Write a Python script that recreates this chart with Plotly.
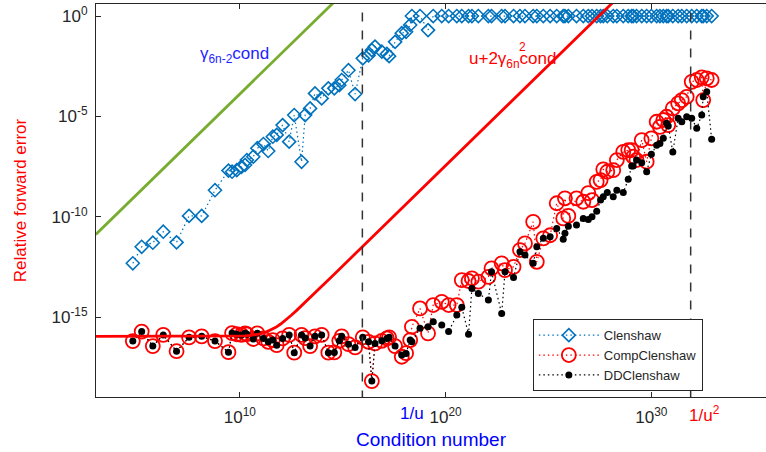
import plotly.graph_objects as go

# ---------------- data ----------------
cond = [6.3e4, 1.7e5, 5.9e5, 1.9e6, 8.4e6, 3.4e7, 1.4e8, 6.2e8, 2.8e9, 4.2e9,
        7.1e9, 1.2e10, 1.8e10, 2.2e10, 4.5e10, 7.1e10, 1.4e11, 2.4e11, 4.0e11, 6.2e11,
        1.2e12, 2.5e12, 4.4e12, 1.0e13, 1.5e13, 2.6e13, 4.5e13, 9.5e13, 2.0e14, 3.9e14,
        6.8e14, 8.9e14, 1.9e15, 4.0e15, 9.4e15, 1.8e16, 2.6e16, 3.7e16, 7.9e16, 1.4e17,
        1.8e17, 3.5e17, 7.4e17, 1.2e18, 1.9e18, 2.3e18, 5.7e18, 1.4e19, 2.5e19, 6.5e19,
        1.4e20, 3.5e20, 6.1e20, 1.3e21, 1.9e21, 3.9e21, 1.2e22, 1.7e22, 5.3e22, 7.7e22,
        2.0e23, 4.1e23, 7.2e23, 1.8e24, 2.7e24, 5.6e24, 1.2e25, 2.5e25, 5.2e25, 6.3e25,
        9.2e25, 2.3e26, 4.9e26, 8.6e26, 1.3e27, 2.2e27, 3.4e27, 4.6e27, 7.2e27, 1.4e28,
        2.1e28, 4.3e28, 7.5e28, 1.1e29, 1.3e29, 1.9e29, 3.4e29, 5.9e29, 1.0e30, 1.8e30,
        2.6e30, 3.8e30, 5.5e30, 6.6e30, 1.1e31, 2.0e31, 3.0e31, 5.2e31, 9.1e31, 1.6e32,
        2.8e32, 3.3e32, 4.9e32, 8.5e32]

err_clenshaw = [4.8e-13, 3.2e-12, 5.1e-12, 1.8e-11, 5.3e-12, 1.1e-10, 1.1e-10, 2.1e-9, 2.0e-8, 1.75e-8,
                2.1e-8, 3.1e-8, 3.8e-8, 6.7e-8, 9.8e-8, 2.6e-7, 4.2e-7, 1.9e-7, 9.7e-7, 1.2e-6,
                3.7e-6, 5.5e-7, 1.17e-5, 5.5e-8, 1.17e-5, 2.5e-5, 1.4e-4, 7.9e-5, 2.5e-4, 2.5e-4,
                3.6e-4, 6.5e-4, 2.0e-3, 1.3e-4, 7.8e-3, 1.1e-2, 2.0e-2, 3.0e-2, 1.7e-2, 1.3e-2,
                1.0e-2, 5.2e-2, 0.14, 0.165, 0.36, 1.0, 1.0, 0.2, 1.0, 1.0,
                1.0, 1.0, 1.0, 1.0, 1.0, 1.0, 1.0, 1.0, 1.0, 1.0,
                1.0, 1.0, 1.0, 1.0, 1.0, 1.0, 1.0, 1.0, 1.0, 1.0,
                1.0, 1.0, 1.0, 1.0, 1.0, 1.0, 1.0, 1.0, 1.0, 1.0,
                1.0, 1.0, 1.0, 1.0, 1.0, 1.0, 1.0, 1.0, 1.0, 1.0,
                1.0, 1.0, 1.0, 1.0, 1.0, 1.0, 1.0, 1.0, 1.0, 1.0,
                1.0, 1.0, 1.0, 1.0]

err_comp = [6.4e-17, 1.9e-16, 3.6e-17, 1.3e-16, 2.0e-17, 9.8e-17, 1.1e-16, 6.4e-17, 1.8e-17, 1.6e-16,
            1.4e-16, 1.3e-16, 1.55e-16, 1.4e-16, 8.1e-17, 1.55e-16, 8.7e-17, 5.9e-17, 7.2e-17, 4.0e-17,
            8.7e-17, 1.3e-16, 1.7e-17, 1.3e-16, 9.0e-17, 3.6e-17, 1.1e-16, 1.3e-16, 1.7e-17, 1.75e-17,
            6.6e-17, 1.1e-16, 4.5e-17, 3.1e-17, 9.8e-17, 5.9e-17, 6.5e-19, 4.9e-17, 6.6e-17, 8.7e-17,
            9.8e-17, 3.6e-17, 1.06e-17, 1.6e-17, 7.2e-17, 3.3e-16, 2.7e-15, 1.55e-16, 4.0e-15, 5.8e-15,
            4.0e-15, 4.0e-15, 7.0e-14, 6.3e-14, 8.5e-14, 5.8e-14, 1.0e-13, 2.7e-13, 4.8e-13, 2.2e-13,
            3.2e-13, 2.2e-12, 4.7e-12, 5.6e-11, 5.7e-13, 8.4e-12, 1.2e-11, 4.7e-10, 8.3e-11, 8.3e-10,
            1.1e-10, 8.3e-10, 5.6e-10, 1.5e-9, 6.8e-10, 5.5e-9, 6.7e-9, 2.3e-8, 1.75e-8, 2.1e-8,
            6.7e-8, 1.7e-7, 2.1e-7, 2.1e-7, 9.8e-8, 6.7e-8, 6.6e-7, 5.5e-8, 8.1e-7, 5.4e-6,
            3.0e-6, 6.6e-6, 9.6e-6, 3.7e-6, 2.5e-5, 4.5e-5, 6.5e-5, 9.5e-5, 5.3e-4, 6.5e-4,
            8.8e-4, 6.5e-5, 7.9e-4, 6.5e-4]

err_dd = [6.4e-17, 1.9e-16, 3.6e-17, 1.3e-16, 2.0e-17, 9.8e-17, 1.1e-16, 6.4e-17, 1.8e-17, 1.6e-16,
          1.4e-16, 1.3e-16, 1.55e-16, 1.4e-16, 8.1e-17, 1.55e-16, 8.7e-17, 5.9e-17, 7.2e-17, 4.0e-17,
          8.7e-17, 1.3e-16, 1.7e-17, 1.3e-16, 9.0e-17, 3.6e-17, 1.1e-16, 1.3e-16, 1.7e-17, 1.75e-17,
          6.6e-17, 1.1e-16, 4.5e-17, 3.1e-17, 9.8e-17, 5.9e-17, 6.5e-19, 4.9e-17, 6.6e-17, 8.7e-17,
          9.8e-17, 3.6e-17, 1.3e-17, 1.56e-17, 7.2e-17, 5.9e-17, 2.75e-16, 3.3e-16, 5.9e-16, 4.0e-16,
          1.9e-16, 1.26e-15, 3.1e-15, 1.4e-16, 2.7e-14, 1.5e-14, 7.1e-15, 1.8e-13, 1.5e-15, 1.8e-13,
          9.5e-14, 1.8e-12, 1.24e-12, 4.8e-13, 3.2e-12, 8.4e-12, 1.0e-11, 2.6e-11, 7.5e-12, 1.5e-11,
          3.4e-11, 3.9e-11, 8.3e-11, 7.4e-11, 1.0e-10, 1.9e-10, 6.8e-10, 9.9e-10, 1.6e-9, 9.9e-10,
          2.1e-9, 1.6e-9, 7.3e-9, 3.4e-8, 3.4e-8, 6.7e-8, 4.9e-8, 1.75e-8, 1.3e-7, 3.7e-7,
          4.5e-7, 8.1e-7, 4.5e-6, 3.3e-6, 1.7e-7, 8.0e-6, 5.4e-6, 9.6e-6, 8.0e-6, 2.6e-6,
          1.17e-5, 9.5e-5, 1.7e-4, 7.2e-7]

# theoretical bounds: u = unit roundoff, n = polynomial degree
u = 2.0 ** -53
n = 20
gamma_6n_2 = (6 * n - 2) * u / (1 - (6 * n - 2) * u)
gamma_6n = 6 * n * u / (1 - 6 * n * u)
bound_cond = [10 ** (k / 4) for k in range(12, 4 * 36 + 1)]
bound_clenshaw = [gamma_6n_2 * c for c in bound_cond]
bound_comp = [u + 2 * gamma_6n ** 2 * c for c in bound_cond]

x_ticks = [1e10, 1e20, 1e30]
x_ticktext = ["10<sup>10</sup>", "10<sup>20</sup>", "10<sup>30</sup>"]
y_ticks = [1e0, 1e-5, 1e-10, 1e-15]
y_ticktext = ["10<sup>0</sup>", "10<sup>-5</sup>", "10<sup>-10</sup>", "10<sup>-15</sup>"]

FONT = "Liberation Sans, Arial, Helvetica, sans-serif"
AX = "#262626"
DOT = "1.5px,3px"

fig = go.Figure()

fig.add_trace(go.Scatter(
    x=cond, y=err_clenshaw, name="Clenshaw", mode="lines+markers",
    line=dict(color="#0072BD", width=1.2, dash=DOT),
    marker=dict(symbol="diamond-open", size=10, color="#0072BD", line=dict(width=1.6, color="#0072BD"))))
fig.add_trace(go.Scatter(
    x=cond, y=err_comp, name="CompClenshaw", mode="lines+markers",
    line=dict(color="#FF0000", width=1.2, dash=DOT),
    marker=dict(symbol="circle-open", size=14, color="#FF0000", line=dict(width=1.8, color="#FF0000"))))
fig.add_trace(go.Scatter(
    x=cond, y=err_dd, name="DDClenshaw", mode="lines+markers",
    line=dict(color="#000000", width=1.2, dash=DOT),
    marker=dict(symbol="circle", size=7, color="#000000")))

# bound lines
fig.add_trace(go.Scatter(x=bound_cond, y=bound_clenshaw, mode="lines", showlegend=False,
                         line=dict(color="#77AC30", width=2.8), hoverinfo="skip"))
fig.add_trace(go.Scatter(x=bound_cond, y=bound_comp, mode="lines", showlegend=False,
                         line=dict(color="#FF0000", width=2.8), hoverinfo="skip"))

# vertical dashed lines at 1/u and 1/u^2
for xv in [1 / u, 1 / u ** 2]:
    fig.add_trace(go.Scatter(x=[xv, xv], y=[1e-20, 1e2], mode="lines", showlegend=False,
                             line=dict(color="#333333", width=1.5, dash="dash"), hoverinfo="skip"))

fig.update_layout(
    width=766, height=452, autosize=False,
    margin=dict(l=96, r=0, t=4, b=55),
    plot_bgcolor="white", paper_bgcolor="white",
    font=dict(family=FONT, color=AX),
    legend=dict(x=0.652, y=0.198, xanchor="left", yanchor="top",
                bgcolor="white", bordercolor=AX, borderwidth=1,
                font=dict(family=FONT, size=13, color=AX), itemwidth=60,
                tracegroupgap=0),
)

fig.update_xaxes(
    type="log", range=[3.01, 35.57], automargin=False,
    tickvals=x_ticks, ticktext=x_ticktext,
    ticks="inside", ticklen=5, tickcolor=AX, tickwidth=1,
    showline=True, linecolor=AX, linewidth=1, mirror="ticks",
    showgrid=False, zeroline=False, ticklabelstandoff=5,
    tickfont=dict(family=FONT, size=17, color=AX),
    title=dict(text="Condition number", font=dict(family=FONT, size=19, color="#0000FF"), standoff=6),
)
fig.update_yaxes(
    type="log", range=[-18.98, 0.6], automargin=False,
    tickvals=y_ticks, ticktext=y_ticktext,
    ticks="inside", ticklen=5, tickcolor=AX, tickwidth=1,
    showline=True, linecolor=AX, linewidth=1, mirror=False,
    showgrid=False, zeroline=False, ticklabelstandoff=4,
    tickfont=dict(family=FONT, size=17, color=AX),
    title=dict(text="Relative forward error", font=dict(family=FONT, size=17, color="#FF0000"), standoff=20),
)

annotations = [
    dict(text="γ<sub>6n-2</sub>cond", x=7.97, y=-1.94, xref="x", yref="y",
         xanchor="left", yanchor="middle", showarrow=False,
         font=dict(family=FONT, size=17, color="#1F1FFF")),
    dict(text="u+2γ<sub>6n</sub>cond", x=21.04, y=-2.19, xref="x", yref="y",
         xanchor="left", yanchor="middle", showarrow=False,
         font=dict(family=FONT, size=17, color="#FF0000")),
    dict(text="2", x=23.45, y=-1.55, xref="x", yref="y",
         xanchor="left", yanchor="middle", showarrow=False,
         font=dict(family=FONT, size=12, color="#FF0000")),
    dict(text="1/u", x=17.69, y=-0.043, xref="x", yref="paper",
         xanchor="left", yanchor="middle", showarrow=False,
         font=dict(family=FONT, size=17, color="#0000FF")),
    dict(text="1/u<sup>2</sup>", x=31.73, y=-0.043, xref="x", yref="paper",
         xanchor="left", yanchor="middle", showarrow=False,
         font=dict(family=FONT, size=17, color="#FF0000")),
]
fig.update_layout(annotations=annotations)

fig.write_html("out.html", config={"displayModeBar": False},
               post_script="document.body.style.margin='0';document.body.style.padding='0';")
